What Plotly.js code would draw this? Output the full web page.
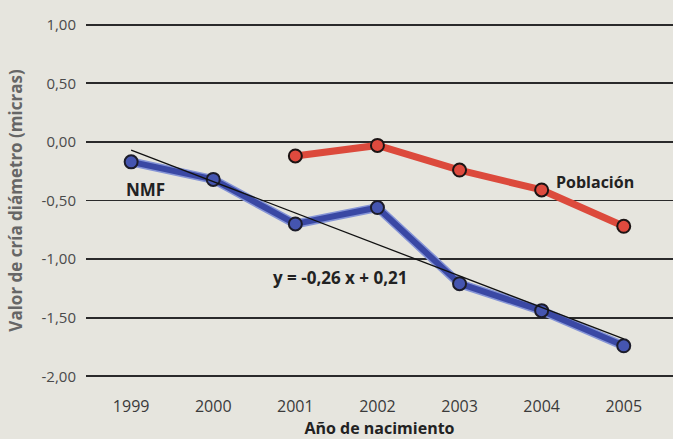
<!DOCTYPE html>
<html>
<head>
<meta charset="utf-8">
<script src="https://cdn.plot.ly/plotly-3.0.1.min.js"></script>
<style>
  html, body { margin: 0; padding: 0; background: #e6e5de; }
  #chart { width: 673px; height: 439px; }
</style>
</head>
<body>
<div id="chart"></div>
<script>
// Data
const years = [1999, 2000, 2001, 2002, 2003, 2004, 2005];
const nmfValues = [-0.17, -0.32, -0.70, -0.56, -1.21, -1.44, -1.74];
const poblacionYears = [2001, 2002, 2003, 2004, 2005];
const poblacionValues = [-0.12, -0.03, -0.24, -0.41, -0.72];
const trendYears = [1999, 2005];
const trendValues = [-0.07, -1.68];
const yTickVals = [1.0, 0.5, 0.0, -0.5, -1.0, -1.5, -2.0];
const yTickText = ["1,00", "0,50", "0,00", "-0,50", "-1,00", "-1,50", "-2,00"];
const xTickText = ["1999", "2000", "2001", "2002", "2003", "2004", "2005"];

const FONT = "'Open Sans', sans-serif";

const traces = [
  { // blue halo
    x: years, y: nmfValues, type: 'scatter', mode: 'lines',
    line: { color: '#8594d6', width: 9 }, hoverinfo: 'skip', showlegend: false
  },
  {
    x: years, y: nmfValues, type: 'scatter', mode: 'lines+markers',
    line: { color: '#3a48a4', width: 6 },
    marker: { size: 13, color: '#4555b0', line: { color: '#1c1c2a', width: 2 } },
    name: 'NMF', showlegend: false
  },
  {
    x: trendYears, y: trendValues, type: 'scatter', mode: 'lines',
    line: { color: '#111111', width: 1.3 }, name: 'Tendencia', showlegend: false
  },
  {
    x: poblacionYears, y: poblacionValues, type: 'scatter', mode: 'lines+markers',
    line: { color: '#dc4a3c', width: 7 },
    marker: { size: 13, color: '#de4a3e', line: { color: '#1c1414', width: 2 } },
    name: 'Población', showlegend: false
  }
];

const layout = {
  width: 673, height: 439,
  margin: { l: 86, r: 0, t: 13, b: 51 },
  paper_bgcolor: '#e6e5de',
  plot_bgcolor: '#e6e5de',
  font: { family: FONT, color: '#444' },
  xaxis: {
    range: [1998.45, 2005.6],
    tickvals: years, ticktext: xTickText,
    showgrid: false, zeroline: false, showline: false,
    ticks: 'outside', ticklen: 4, tickcolor: 'rgba(0,0,0,0)',
    tickfont: { size: 16, color: '#3a3a3a', family: FONT },
    title: { text: '<b>Año de nacimiento</b>', font: { size: 16, color: '#222', family: FONT }, standoff: 6 },
    fixedrange: true
  },
  yaxis: {
    range: [-2.1, 1.1],
    tickvals: yTickVals, ticktext: yTickText,
    showgrid: true, gridcolor: '#2a2a2a', gridwidth: 1.8,
    zeroline: false, showline: false,
    ticks: 'outside', ticklen: 6, tickcolor: 'rgba(0,0,0,0)',
    tickfont: { size: 15, color: '#4a4a4a', family: FONT },
    title: { text: '<b>Valor de cría diámetro (micras)</b>', font: { size: 17, color: '#666', family: FONT }, standoff: 14 },
    fixedrange: true
  },
  annotations: [
    { x: 1999.17, y: -0.41, xref: 'x', yref: 'y', text: '<b>NMF</b>', showarrow: false,
      font: { size: 17, color: '#222', family: FONT } },
    { x: 2004.65, y: -0.34, xref: 'x', yref: 'y', text: '<b>Población</b>', showarrow: false,
      font: { size: 16, color: '#222', family: FONT } },
    { x: 2001.55, y: -1.16, xref: 'x', yref: 'y', text: '<b>y = -0,26 x + 0,21</b>', showarrow: false,
      font: { size: 17, color: '#222', family: FONT } }
  ]
};

Plotly.newPlot('chart', traces, layout, { displayModeBar: false, staticPlot: true });
</script>
</body>
</html>
